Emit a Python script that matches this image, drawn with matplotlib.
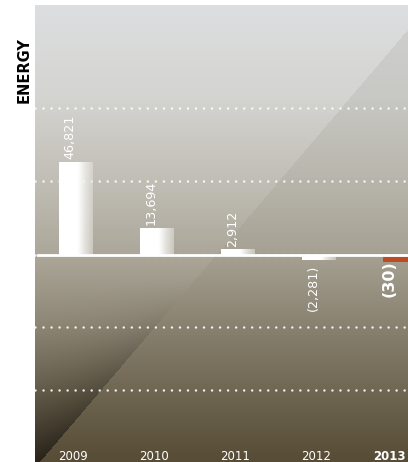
import numpy as np
import matplotlib
matplotlib.use("Agg")
import matplotlib.pyplot as plt
import matplotlib.patheffects as pe
from matplotlib.colors import to_rgb

# data
years = ["2009", "2010", "2011", "2012", "2013"]
values = [46821, 13694, 2912, -2281, -30]
value_labels = ["46,821", "13,694", "2,912", "(2,281)", "(30)"]
grid_values = [-68000, -36000, 0, 37500, 74000]
title = "ENERGY"

fig = plt.figure(figsize=(4.08, 4.62), dpi=100)
ax = fig.add_axes([35 / 408, 0, 373 / 408, 457 / 462])


def ramp(stops, v):
    pos = [s[0] for s in stops]
    cols = np.array([to_rgb(s[1]) for s in stops])
    return np.stack([np.interp(v, pos, cols[:, k]) for k in range(3)], axis=-1)


# background: vertical gradient, split by a diagonal
H, W = 457, 373
v = np.linspace(1, 0, H)[:, None] * np.ones((1, W))
u = np.linspace(0, 1, W)[None, :] * np.ones((H, 1))
left_stops = [(0.0, "#43392a"), (0.15, "#6a624e"), (0.3, "#8f8877"), (0.45, "#aba699"),
              (0.6, "#bfbcb3"), (0.8, "#d4d4d1"), (1.0, "#dddee0")]
right_stops = [(0.0, "#574c36"), (0.1, "#665d48"), (0.3, "#898270"), (0.45, "#a5a092"),
               (0.6, "#b6b3a9"), (0.8, "#c8c8c4"), (1.0, "#d0d0d1")]
diag = 0.958 * (u - 0.0134)
left = ramp(left_stops, v)
right = ramp(right_stops, v)
dist = np.clip((v - diag) * H * 0.648, 0, None)
shadow = 0.4 * np.exp(-dist / 45) * np.clip((0.4 - v) / 0.4, 0, 1)
left = left * (1 - shadow[..., None])
bg = np.where((v < diag)[..., None], right, left)
ax.imshow(bg, extent=(0, 1, 0, 1), transform=ax.transAxes, aspect="auto", zorder=0)

# dotted grid
for g in grid_values:
    ax.axhline(g, color="white", alpha=0.9, lw=1.8, linestyle=(0, (0.01, 3.2)),
               dash_capstyle="round", zorder=1)

# bars with a horizontal fade
x = np.arange(len(years))
bars = ax.bar(x, values, width=0.41, color="none", linewidth=0, zorder=3)

t = np.linspace(0, 1, 60)
alpha = np.where(t < 0.55, 1.0, 1.0 - 0.45 * (t - 0.55) / 0.45)
white_grad = np.ones((1, 60, 4))
white_grad[0, :, :3] = ramp([(0, "#ffffff"), (0.6, "#ffffff"), (1, "#e4e2dc")], t)
white_grad[0, :, 3] = alpha
red_grad = np.ones((1, 60, 4))
red_grad[0, :, :3] = ramp([(0, "#a8301c"), (0.5, "#c45a22"), (1, "#d89236")], t)

for i, rect in enumerate(bars):
    x0, y0 = rect.get_x(), rect.get_y()
    w, h = rect.get_width(), rect.get_height()
    grad = red_grad if i == len(bars) - 1 else white_grad
    im = ax.imshow(grad, extent=(x0, x0 + w, y0, y0 + h), aspect="auto", zorder=3)
    im.set_clip_path(rect)
# 2013 is tiny: draw it as a coloured strip just under the zero line
bars[-1].set_path_effects([pe.Stroke(offset=(0, -2.6), linewidth=3.4, foreground="#bd4a20")])

ax.axhline(0, xmin=0.008, color="white", lw=2, zorder=4)

# value labels
for i, (val, lab) in enumerate(zip(values, value_labels)):
    last = i == len(values) - 1
    if val >= 0:
        ax.annotate(lab, (x[i], val), xytext=(-4, 2), textcoords="offset points",
                    rotation=90, ha="center", va="bottom", color="white",
                    fontsize=9.2, zorder=5)
    else:
        ax.annotate(lab, (x[i], val), xytext=(-7.5 if last else -4, -4),
                    textcoords="offset points", rotation=90, ha="center", va="top",
                    color="white", fontsize=11.5 if last else 9.2,
                    fontweight="bold" if last else "normal", zorder=5)

# year labels inside the panel
for i, yr in enumerate(years):
    last = i == len(years) - 1
    ax.text(x[i] - (0.13 if last else 0.03), 0.004, yr,
            transform=ax.get_xaxis_transform(), ha="center", va="baseline",
            color="white", fontsize=8.5, fontweight="bold" if last else "normal", zorder=5)

fig.text(24 / 408, 1 - 70 / 462, title, rotation=90, ha="center", va="center",
         fontsize=10.5, fontweight="bold", color="black")

ax.set_xlim(-0.5, 4.1)
ax.set_ylim(-104100, 125800)
ax.axis("off")

fig.savefig("out.png", dpi=100)
